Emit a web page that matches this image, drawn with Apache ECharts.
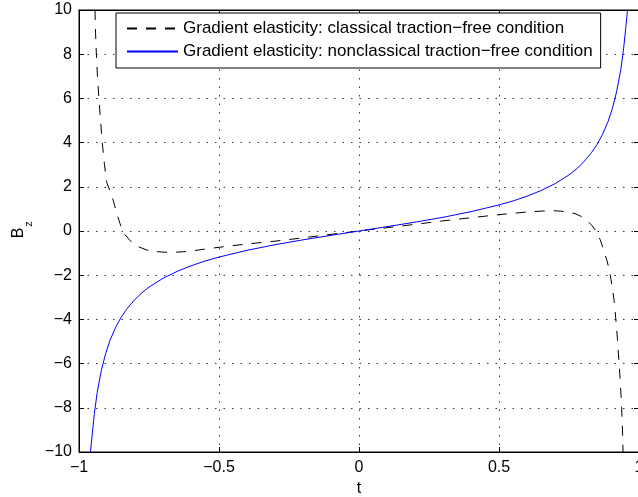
<!DOCTYPE html>
<html>
<head>
<meta charset="utf-8">
<script src="https://cdn.jsdelivr.net/npm/echarts@6/dist/echarts.min.js"></script>
<style>html,body{margin:0;padding:0;background:#fff}#c{width:638px;height:497px}</style>
</head>
<body>
<div id="c"></div>
<script>
// Data
var seriesNames = [
  'Gradient elasticity: classical traction\u2212free condition',
  'Gradient elasticity: nonclassical traction\u2212free condition'
];
var xTicks = [-1, -0.5, 0, 0.5, 1];
var yTicks = [-10, -8, -6, -4, -2, 0, 2, 4, 6, 8, 10];

var tClassical = [-0.943, -0.941, -0.938, -0.934, -0.929, -0.923, -0.917, -0.909, -0.901, -0.889, -0.877, -0.865, -0.854, -0.84, -0.818, -0.79, -0.758, -0.725, -0.693, -0.66, -0.627, -0.59, -0.55, -0.52, -0.47, -0.4, -0.3, -0.2, -0.1, 0,
                  0.1, 0.2, 0.3, 0.4, 0.5, 0.55, 0.61, 0.65, 0.69, 0.72, 0.754, 0.775, 0.79, 0.805, 0.819, 0.832, 0.843, 0.852, 0.861, 0.867, 0.873, 0.879, 0.885, 0.894, 0.9, 0.906, 0.911, 0.917, 0.923, 0.929, 0.934, 0.938, 0.941, 0.943];
var yClassical = [10, 9, 8, 7, 6, 5, 4, 3, 2.2, 1.8, 1.35, 0.8, 0.35, -0.1, -0.43, -0.7, -0.86, -0.93, -0.96, -0.96, -0.94, -0.89, -0.82, -0.77, -0.69, -0.59, -0.46, -0.31, -0.15, 0,
                  0.15, 0.3, 0.46, 0.6, 0.74, 0.8, 0.87, 0.9, 0.92, 0.9, 0.85, 0.77, 0.68, 0.56, 0.42, 0.25, 0.05, -0.15, -0.38, -0.6, -0.86, -1.08, -1.31, -1.76, -2.2, -2.67, -3.15, -3.95, -4.9, -6.0, -7.0, -8.0, -9.0, -10];

var tNonclassical = [-0.959, -0.952, -0.945, -0.935, -0.92, -0.905, -0.89, -0.87, -0.85, -0.83, -0.8, -0.775, -0.75, -0.7, -0.65, -0.6, -0.55, -0.5, -0.4, -0.3, -0.2, -0.1, 0,
                     0.1, 0.2, 0.3, 0.4, 0.5, 0.55, 0.6, 0.65, 0.7, 0.75, 0.775, 0.8, 0.83, 0.85, 0.87, 0.89, 0.905, 0.92, 0.935, 0.945, 0.952, 0.959];
var yNonclassical = [-10, -9.1, -8.25, -7.3, -6.3, -5.55, -4.97, -4.38, -3.91, -3.54, -3.09, -2.79, -2.54, -2.14, -1.83, -1.575, -1.36, -1.18, -0.875, -0.62, -0.4, -0.196, 0,
                     0.196, 0.4, 0.62, 0.875, 1.18, 1.36, 1.575, 1.83, 2.14, 2.54, 2.79, 3.09, 3.54, 3.91, 4.38, 4.97, 5.55, 6.3, 7.3, 8.25, 9.1, 10];

var FONT = '"Liberation Sans", Arial, Helvetica, sans-serif';
function fmt(v){ return String(v).replace('-', '\u2212'); }
function pairs(xs, ys){ return xs.map(function(x,i){ return [x, ys[i]]; }); }

var chart = echarts.init(document.getElementById('c'), null, {renderer:'canvas'});
var gridLine = {show:true, lineStyle:{color:'#333', width:1, type:[1.5,7]}};
var baseX = {type:'value', min:xTicks[0], max:xTicks[xTicks.length-1], interval:0.5};
var baseY = {type:'value', min:yTicks[0], max:yTicks[yTicks.length-1], interval:2};
var axisLineStyle = {onZero:false, lineStyle:{color:'#000', width:1}};
chart.setOption({
  animation:false,
  backgroundColor:'#fff',
  grid:{left:79, top:10, width:560, height:442, show:true, borderColor:'#000', borderWidth:1,
        containLabel:false, outerBoundsMode:'none'},
  legend:{
    orient:'vertical', left:116, top:13,
    itemWidth:51, itemHeight:14, itemGap:6,
    padding:[7,8,8,10],
    borderColor:'#000', borderWidth:1, backgroundColor:'#fff',
    textStyle:{fontSize:17, color:'#000', fontFamily:FONT},
    itemStyle:{opacity:0},
    data:seriesNames
  },
  xAxis:[
    Object.assign({}, baseX, {
      position:'bottom',
      name:'t', nameLocation:'middle', nameGap:28,
      nameTextStyle:{fontSize:16, color:'#000', fontFamily:FONT},
      axisLine:axisLineStyle,
      axisTick:{inside:true, length:5, lineStyle:{color:'#000'}},
      axisLabel:{fontSize:16, color:'#000', fontFamily:FONT, margin:8, formatter:fmt},
      splitLine:gridLine
    }),
    Object.assign({}, baseX, {
      position:'top',
      axisLine:axisLineStyle,
      axisTick:{inside:true, length:5, lineStyle:{color:'#000'}},
      axisLabel:{show:false}, splitLine:{show:false}
    })
  ],
  yAxis:[
    Object.assign({}, baseY, {
      position:'left',
      axisLine:axisLineStyle,
      axisTick:{inside:true, length:5, lineStyle:{color:'#000'}},
      axisLabel:{fontSize:16, color:'#000', fontFamily:FONT, margin:7, formatter:fmt},
      splitLine:gridLine
    }),
    Object.assign({}, baseY, {
      position:'right',
      axisLine:axisLineStyle,
      axisTick:{inside:true, length:5, lineStyle:{color:'#000'}},
      axisLabel:{show:false}, splitLine:{show:false}
    })
  ],
  graphic:[
    {type:'text', x:19, y:233, rotation:Math.PI/2,
     style:{text:'B', fontSize:16, fontFamily:FONT, fill:'#000', align:'center', verticalAlign:'middle'}},
    {type:'text', x:29, y:224, rotation:Math.PI/2,
     style:{text:'z', fontSize:11, fontFamily:FONT, fill:'#000', align:'center', verticalAlign:'middle'}}
  ],
  series:[
    {name:seriesNames[0], type:'line', data:pairs(tClassical, yClassical),
     symbol:'none', showSymbol:false, smooth:false, clip:true,
     lineStyle:{color:'#000', width:1, type:[10,9]}, itemStyle:{color:'#000'}},
    {name:seriesNames[1], type:'line', data:pairs(tNonclassical, yNonclassical),
     symbol:'none', showSymbol:false, smooth:false, clip:true,
     lineStyle:{color:'#0000ff', width:1}, itemStyle:{color:'#0000ff'}}
  ]
});
</script>
</body>
</html>
